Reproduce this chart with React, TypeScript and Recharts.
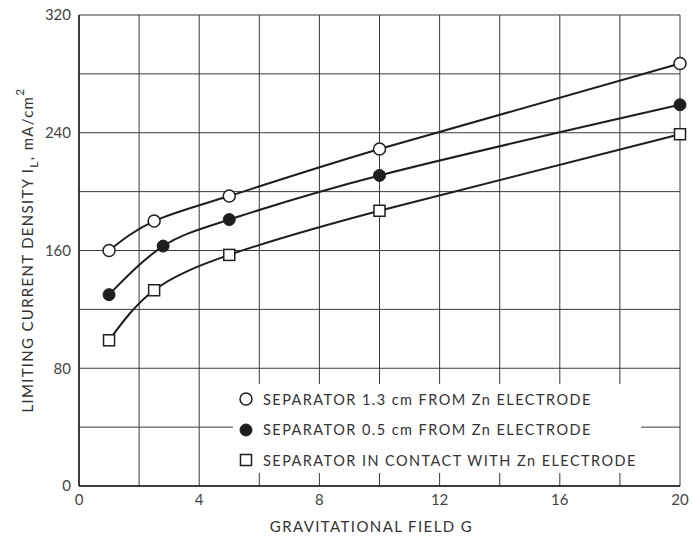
import { LineChart, Line, XAxis, YAxis, CartesianGrid } from 'recharts';

// gravitational field G readings for each curve
const gFar = [1, 2.5, 5, 10, 20];
const iFar = [160, 180, 197, 229, 287];

const gMid = [1, 2.8, 5, 10, 20];
const iMid = [130, 163, 181, 211, 259];

const gContact = [1, 2.5, 5, 10, 20];
const iContact = [99, 133, 157, 187, 239];

const xTicks = [0, 2, 4, 6, 8, 10, 12, 14, 16, 18, 20];
const yTicks = [0, 40, 80, 120, 160, 200, 240, 280, 320];

const legendLabels = [
  'SEPARATOR 1.3 cm FROM Zn ELECTRODE',
  'SEPARATOR 0.5 cm FROM Zn ELECTRODE',
  'SEPARATOR IN CONTACT WITH Zn ELECTRODE',
];

const toPoints = (xs: number[], ys: number[]) => xs.map((g, i) => ({ g, i: ys[i] }));

const INK = '#1e1e1e';
const FONT = 'Lato, "Noto Sans", sans-serif';

function OpenCircle(props: any) {
  const { cx, cy } = props;
  if (cx == null || cy == null) return null;
  return <circle cx={cx} cy={cy} r={6} fill="#fff" stroke={INK} strokeWidth={1.5} />;
}

function FilledCircle(props: any) {
  const { cx, cy } = props;
  if (cx == null || cy == null) return null;
  return <circle cx={cx} cy={cy} r={6} fill={INK} stroke={INK} strokeWidth={1} />;
}

function OpenSquare(props: any) {
  const { cx, cy } = props;
  if (cx == null || cy == null) return null;
  return <rect x={cx - 5.5} y={cy - 5.5} width={11} height={11} fill="#fff" stroke={INK} strokeWidth={1.5} />;
}

function YLabel() {
  return (
    <text
      transform="translate(33, 250) rotate(-90)"
      textAnchor="middle"
      fontFamily={FONT}
      fontSize={15}
      fill="#333"
      letterSpacing={1.3}
    >
      LIMITING CURRENT DENSITY I
      <tspan fontSize={12} dy={5}>L</tspan>
      <tspan dy={-5}>,  mA/cm</tspan>
      <tspan fontSize={12} dy={-9}>2</tspan>
    </text>
  );
}

export default function App() {
  const markers = [OpenCircle, FilledCircle, OpenSquare];
  return (
    <div style={{ position: 'absolute', left: 0, top: 0, width: 693, height: 538, background: '#fff' }}>
      <LineChart width={693} height={538} margin={{ top: 15, right: 13, bottom: 0, left: 0 }}>
        <CartesianGrid stroke="#3a3a3a" strokeWidth={1} />
        <XAxis
          type="number"
          dataKey="g"
          domain={[0, 20]}
          ticks={xTicks}
          tickFormatter={(v) => (v % 4 === 0 ? String(v) : '')}
          tickLine={false}
          axisLine={{ stroke: INK, strokeWidth: 1.5 }}
          height={52}
          tick={{ fill: '#444', fontSize: 15, fontFamily: FONT }}
          label={{
            value: 'GRAVITATIONAL FIELD G',
            position: 'insideBottom',
            offset: 6,
            dx: -8,
            fill: '#333',
            fontSize: 15,
            fontFamily: FONT,
            letterSpacing: 1.4,
          }}
        />
        <YAxis
          type="number"
          domain={[0, 320]}
          ticks={yTicks}
          tickFormatter={(v) => (v % 80 === 0 ? String(v) : '')}
          tickLine={false}
          axisLine={{ stroke: INK, strokeWidth: 1.5 }}
          width={79}
          tick={{ fill: '#444', fontSize: 15, fontFamily: FONT }}
          label={{ content: () => <YLabel /> }}
        />
        <Line
          data={toPoints(gFar, iFar)}
          dataKey="i"
          type="natural"
          stroke={INK}
          strokeWidth={2}
          dot={<OpenCircle />}
          activeDot={false}
          isAnimationActive={false}
        />
        <Line
          data={toPoints(gMid, iMid)}
          dataKey="i"
          type="natural"
          stroke={INK}
          strokeWidth={2}
          dot={<FilledCircle />}
          activeDot={false}
          isAnimationActive={false}
        />
        <Line
          data={toPoints(gContact, iContact)}
          dataKey="i"
          type="natural"
          stroke={INK}
          strokeWidth={2}
          dot={<OpenSquare />}
          activeDot={false}
          isAnimationActive={false}
        />
      </LineChart>
      <div
        style={{
          position: 'absolute',
          left: 233,
          top: 384,
          width: 408,
          height: 89,
          background: '#fff',
          fontFamily: FONT,
          fontSize: 14.5,
          color: '#333',
          letterSpacing: 1.45,
        }}
      >
        {legendLabels.map((label, k) => {
          const Marker = markers[k];
          return (
            <div key={label} style={{ position: 'absolute', left: 4, top: 5 + k * 30.5, height: 20, display: 'flex', alignItems: 'center', whiteSpace: 'nowrap' }}>
              <svg width={18} height={18} style={{ marginRight: 8 }}>
                <Marker cx={9} cy={9} />
              </svg>
              {label}
            </div>
          );
        })}
      </div>
    </div>
  );
}
